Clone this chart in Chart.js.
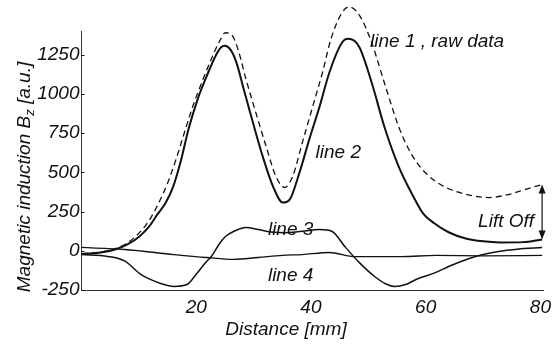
<!DOCTYPE html>
<html>
<head>
<meta charset="utf-8">
<script src="https://cdn.jsdelivr.net/npm/chart.js@4.4.1/dist/chart.umd.min.js"></script>
<style>
  html, body { margin: 0; padding: 0; background: #fff; }
  #wrap { width: 557px; height: 346px; }
</style>
</head>
<body>
<div id="wrap"><canvas id="lineChart" width="557" height="346"></canvas></div>
<script>
// values (distance in mm, Bz in a.u.)
const line1X = [0, 3, 6, 8, 10.6, 12, 13.5, 15, 16.5, 18, 19.5, 21, 22.5, 24, 25.1, 26.3, 27.3, 28.7, 30.4, 32.2, 33.9, 35.4, 36.8, 38.5, 40.3, 42, 43.5, 45.4, 46.6, 48.4, 50.6, 52.8, 55.3, 57, 58.5, 60, 62, 64, 67, 71, 74.4, 77.3, 80.3];
const line1Y = [-20, -10, 15, 50, 135, 205, 307, 430, 585, 760, 930, 1075, 1210, 1330, 1389, 1370, 1281, 1090, 879, 663, 473, 403, 473, 689, 918, 1134, 1350, 1516, 1554, 1503, 1325, 1070, 790, 650, 560, 495, 435, 395, 360, 339, 358, 390, 422];

const line2X = [0, 3, 6, 8, 10.1, 11.8, 13.2, 14.7, 16, 17.3, 18.7, 20.2, 21.8, 23.5, 24.3, 25, 26, 27, 28.2, 29.9, 31.6, 33.4, 35.1, 36.3, 38, 39.7, 41.5, 43.2, 45.4, 46.5, 48.4, 50.6, 52.8, 55.3, 57.5, 59.5, 61.5, 64, 67, 70, 73, 77, 80.3];
const line2Y = [-20, -12, 10, 40, 91, 155, 230, 307, 410, 570, 780, 960, 1110, 1250, 1295, 1306, 1280, 1200, 1040, 815, 600, 409, 307, 326, 498, 708, 918, 1134, 1325, 1350, 1300, 1070, 790, 536, 370, 240, 175, 118, 78, 60, 53, 55, 72];

const line3X = [0, 4.6, 7.5, 10.4, 12.5, 14.4, 16.1, 18.4, 20, 21.8, 22.5, 24.2, 25.1, 26.5, 28.7, 30.8, 33, 35.6, 38, 41.5, 43.7, 45.9, 48.4, 51.1, 53, 54.6, 56.5, 58.5, 61.8, 64, 68.7, 72.7, 76, 80.3];
const line3Y = [-24, -36, -65, -152, -190, -215, -227, -215, -150, -68, -43, 53, 91, 123, 148, 135, 120, 115, 122, 135, 123, 27, -74, -164, -210, -227, -215, -180, -138, -100, -36, -5, 10, 20];

const line4X = [0, 7.5, 16.1, 21.8, 26.5, 30.8, 35, 38.5, 43.2, 47.7, 55.8, 61.8, 70, 80.3];
const line4Y = [21, 8, -24, -43, -55, -43, -30, -24, -11, -37, -37, -30, -32, -30];

const xTicks = [20, 40, 60, 80];
const yTicks = [-250, 0, 250, 500, 750, 1000, 1250];
const lineLabels = ['line 1 , raw data', 'line 2', 'line 3', 'line 4'];

const FONT = '"Liberation Sans", Arial, sans-serif';
const INK = '#111';

function pts(xs, ys) {
    return xs.map((x, i) => ({ x: x, y: ys[i] }));
}

// titles, labels, arrow and small inward ticks
const extras = {
    id: 'extras',
    beforeDraw(chart) {
        const c = chart.ctx;
        c.save();
        c.fillStyle = '#fff';
        c.fillRect(0, 0, chart.width, chart.height);
        c.restore();
    },
    afterDraw(chart) {
        const c = chart.ctx, xs = chart.scales.x, ys = chart.scales.y;
        c.save();
        c.fillStyle = INK;
        c.strokeStyle = INK;
        c.lineWidth = 1;

        ys.ticks.forEach(t => {
            const py = Math.round(ys.getPixelForValue(t.value)) + 0.5;
            c.beginPath();
            c.moveTo(xs.left, py);
            c.lineTo(xs.left + 3, py);
            c.stroke();
        });

        c.font = 'italic 19px ' + FONT;
        c.textBaseline = 'middle';
        c.textAlign = 'left';
        const put = (txt, x, y) => c.fillText(txt, xs.getPixelForValue(x), ys.getPixelForValue(y));
        put(lineLabels[0], 50.3, 1331);
        put(lineLabels[1], 40.8, 625);
        put(lineLabels[2], 32.5, 135);
        put(lineLabels[3], 32.5, -157);
        c.textAlign = 'right';
        put('Lift Off', 78.9, 186);

        // lift off arrow between end of line 1 and end of line 2
        const ax = xs.getPixelForValue(line1X[line1X.length - 1]);
        const aTop = ys.getPixelForValue(line1Y[line1Y.length - 1]);
        const aBot = ys.getPixelForValue(line2Y[line2Y.length - 1]);
        c.lineWidth = 1.2;
        c.beginPath();
        c.moveTo(ax, aTop + 6);
        c.lineTo(ax, aBot - 6);
        c.stroke();
        c.beginPath();
        c.moveTo(ax, aTop);
        c.lineTo(ax - 3.5, aTop + 9);
        c.lineTo(ax + 3.5, aTop + 9);
        c.closePath();
        c.fill();
        c.beginPath();
        c.moveTo(ax, aBot);
        c.lineTo(ax - 3.5, aBot - 9);
        c.lineTo(ax + 3.5, aBot - 9);
        c.closePath();
        c.fill();

        // x title
        c.textAlign = 'center';
        c.font = 'italic 19px ' + FONT;
        c.fillText('Distance [mm]', 286, 330);

        // y title with subscript z
        const big = 'italic 19px ' + FONT, small = 'italic 13px ' + FONT;
        const p1 = 'Magnetic induction B', p2 = 'z', p3 = ' [a.u.]';
        c.font = big;
        const w1 = c.measureText(p1).width, w3 = c.measureText(p3).width;
        c.font = small;
        const w2 = c.measureText(p2).width;
        const total = w1 + w2 + w3;
        c.translate(25, 177);
        c.rotate(-Math.PI / 2);
        c.textAlign = 'left';
        let px = -total / 2;
        c.font = big;
        c.fillText(p1, px, 0);
        px += w1;
        c.font = small;
        c.fillText(p2, px, 5);
        px += w2;
        c.font = big;
        c.fillText(p3, px, 0);
        c.restore();
    }
};

let ctx = document.getElementById('lineChart').getContext('2d');
let chart = new Chart(ctx, {
    type: 'line',
    data: {
        datasets: [{
            label: lineLabels[0],
            data: pts(line1X, line1Y),
            borderColor: INK,
            borderWidth: 1.3,
            borderDash: [6, 4],
            clip: false
        }, {
            label: lineLabels[1],
            data: pts(line2X, line2Y),
            borderColor: INK,
            borderWidth: 2
        }, {
            label: lineLabels[2],
            data: pts(line3X, line3Y),
            borderColor: INK,
            borderWidth: 1.5
        }, {
            label: lineLabels[3],
            data: pts(line4X, line4Y),
            borderColor: INK,
            borderWidth: 1.3
        }]
    },
    options: {
        responsive: false,
        animation: false,
        devicePixelRatio: 1,
        layout: { padding: { top: 31, right: 8, left: 0, bottom: 0 } },
        elements: {
            point: { radius: 0 },
            line: { cubicInterpolationMode: 'monotone', fill: false }
        },
        plugins: {
            legend: { display: false },
            tooltip: { enabled: false }
        },
        scales: {
            x: {
                type: 'linear',
                min: 0,
                max: 80.5,
                grid: { display: false, drawTicks: false },
                border: { display: true, color: '#333', width: 1, dash: [12, 4, 2, 4] },
                ticks: { font: { family: FONT, size: 19, style: 'italic' }, color: INK, padding: 6, maxRotation: 0, callback: v => v },
                afterBuildTicks: s => { s.ticks = xTicks.map(v => ({ value: v })); },
                afterFit: s => { s.height = 56; }
            },
            y: {
                type: 'linear',
                min: -250,
                max: 1400,
                grid: { display: false, drawTicks: false },
                border: { display: true, color: '#333', width: 1 },
                ticks: { font: { family: FONT, size: 19, style: 'italic' }, color: INK, padding: 2, callback: v => v },
                afterBuildTicks: s => { s.ticks = yTicks.map(v => ({ value: v })); },
                afterFit: s => { s.width = 81.5; }
            }
        }
    },
    plugins: [extras]
});
</script>
</body>
</html>
